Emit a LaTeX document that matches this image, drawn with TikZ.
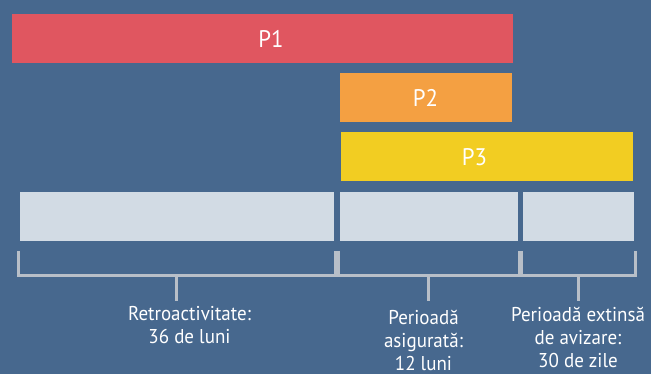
\documentclass[tikz,border=0pt]{standalone}
\usepackage{fontspec}
\setmainfont{PT Sans}[FakeStretch=0.95]
\definecolor{bg}{HTML}{47688E}
\definecolor{pone}{HTML}{E05660}
\definecolor{ptwo}{HTML}{F4A042}
\definecolor{pthree}{HTML}{F2CD22}
\definecolor{grey}{HTML}{D2DBE4}
\definecolor{brk}{HTML}{B8BFC8}
\begin{document}
\begin{tikzpicture}[x = 1pt, y = -1pt, line width = 3pt, draw = brk,
	bar/.style = {anchor = north west, inner sep = 0, minimum height = 49pt, text = white, font = \fontsize{24}{28}\selectfont},
	box/.style = {anchor = north west, inner sep = 0, minimum height = 49pt, fill = grey},
	lbl/.style = {anchor = base, inner sep = 0, align = center, text = white, font = \fontsize{20}{23}\selectfont}]
			\fill [bg] (0,0) rectangle (651,374);
			\useasboundingbox (0,0) rectangle (651,374);
			% policies
			\node [bar, fill = pone, minimum width = 501pt] (p1) at (10,13) {\hspace*{18pt}P1};
			\node [bar, fill = ptwo, minimum width = 172pt] (p2) at (338,72) {P2};
			\node [bar, fill = pthree, minimum width = 292pt] (p3) at (339,131) {P3\hspace*{24pt}};
			% periods
			\node [box, minimum width = 314pt] (b1) at (18,191) {};
			\node [box, minimum width = 178pt] (b2) at (338,191) {};
			\node [box, minimum width = 111pt] (b3) at (521,191) {};
			\foreach \b in {b1, b2, b3} {
				\draw [line join = miter] ([yshift = -8pt]\b.south west) -- ([yshift = -33pt]\b.south west)
					-- ([yshift = -33pt]\b.south east) -- ([yshift = -8pt]\b.south east);
				\draw ([yshift = -33pt]\b.south) -- ([yshift = -58pt]\b.south) coordinate (\b-tip);
			}
			% base is the last line
			\node [lbl] (t1) at ([xshift = 13pt, yshift = -42pt]b1-tip) {Retroactivitate:\\36 de luni};
			\node [lbl] (t2) at ([xshift = -5pt, yshift = -69pt]b2-tip) {Perioadă\\asigurată:\\12 luni};
			\node [lbl] (t3) at ([yshift = -66pt]b3-tip) {Perioadă extinsă\\de avizare:\\30 de zile};
\end{tikzpicture}
\end{document}
